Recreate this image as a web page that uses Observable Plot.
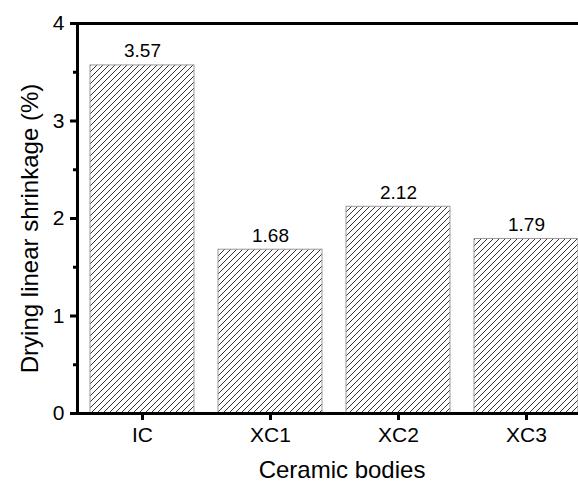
<!DOCTYPE html>
<html>
<head>
<meta charset="utf-8">
<script src="https://cdn.jsdelivr.net/npm/d3@7"></script>
<script src="https://cdn.jsdelivr.net/npm/@observablehq/plot@0.6"></script>
<style>
  html, body { margin: 0; padding: 0; background: #fff; overflow: hidden; }
  #chart svg { font-family: 'Liberation Sans', Arial, Helvetica, sans-serif; }
</style>
</head>
<body>
<div id="chart"></div>
<script>
const categories = ["IC", "XC1", "XC2", "XC3"];
const values = [3.57, 1.68, 2.12, 1.79];
const majorTicks = [0, 1, 2, 3, 4];
const minorTicks = [0.5, 1.5, 2.5, 3.5];
const yFrame = [0, 4];
const xTitle = "Ceramic bodies";
const yTitle = "Drying linear shrinkage (%)";

const data = categories.map((c, i) => ({name: c, value: values[i]}));

const chart = Plot.plot({
  width: 578,
  height: 482,
  marginLeft: 77,
  marginRight: 0,
  marginTop: 23,
  marginBottom: 69,
  style: {background: "#fff", color: "#000"},
  x: {domain: categories, range: [77, 591], paddingInner: 0.19, paddingOuter: 0.095, label: null},
  y: {domain: [0, 4], label: null},
  marks: [
    Plot.barY(data, {x: "name", y: "value", fill: "url(#hatch)", stroke: "#9a9a9a", strokeWidth: 1}),
    Plot.text(data, {x: "name", y: "value", text: d => d.value.toFixed(2), dy: -8, lineAnchor: "bottom", fontSize: 19, fill: "#000"}),
    Plot.ruleY(yFrame, {stroke: "#000", strokeWidth: 3}),
    Plot.frame({anchor: "left", stroke: "#000", strokeWidth: 3}),
    Plot.axisY({ticks: majorTicks, tickSize: 7, tickPadding: 6, fontSize: 21, strokeWidth: 3, stroke: "#000", fill: "#000", label: null, tickFormat: d3.format("d")}),
    Plot.axisY({ticks: minorTicks, tickSize: 4, strokeWidth: 3, stroke: "#000", text: null, label: null}),
    Plot.axisX({tickSize: 7, tickPadding: 7, fontSize: 21, strokeWidth: 3, stroke: "#000", fill: "#000", label: null}),
    Plot.text([xTitle], {text: d => d, frameAnchor: "bottom", dy: 57, dx: 14, lineAnchor: "middle", fontSize: 24, fill: "#000"}),
    Plot.text([yTitle], {text: d => d, frameAnchor: "left", dx: -47, dy: 10, rotate: -90, lineAnchor: "middle", textAnchor: "middle", fontSize: 24, fill: "#000"})
  ]
});

// diagonal hatch pattern used as the bar fill
const ns = "http://www.w3.org/2000/svg";
const defs = document.createElementNS(ns, "defs");
const pat = document.createElementNS(ns, "pattern");
pat.setAttribute("id", "hatch");
pat.setAttribute("patternUnits", "userSpaceOnUse");
pat.setAttribute("width", "6");
pat.setAttribute("height", "6");
const bg = document.createElementNS(ns, "rect");
bg.setAttribute("width", "6"); bg.setAttribute("height", "6"); bg.setAttribute("fill", "#fff");
pat.appendChild(bg);
const p = document.createElementNS(ns, "path");
p.setAttribute("d", "M0,6L6,0M-1,1L1,-1M5,7L7,5");
p.setAttribute("stroke", "#333");
p.setAttribute("stroke-width", "1");
pat.appendChild(p);
defs.appendChild(pat);
chart.appendChild(defs);

document.getElementById("chart").appendChild(chart);
</script>
</body>
</html>
